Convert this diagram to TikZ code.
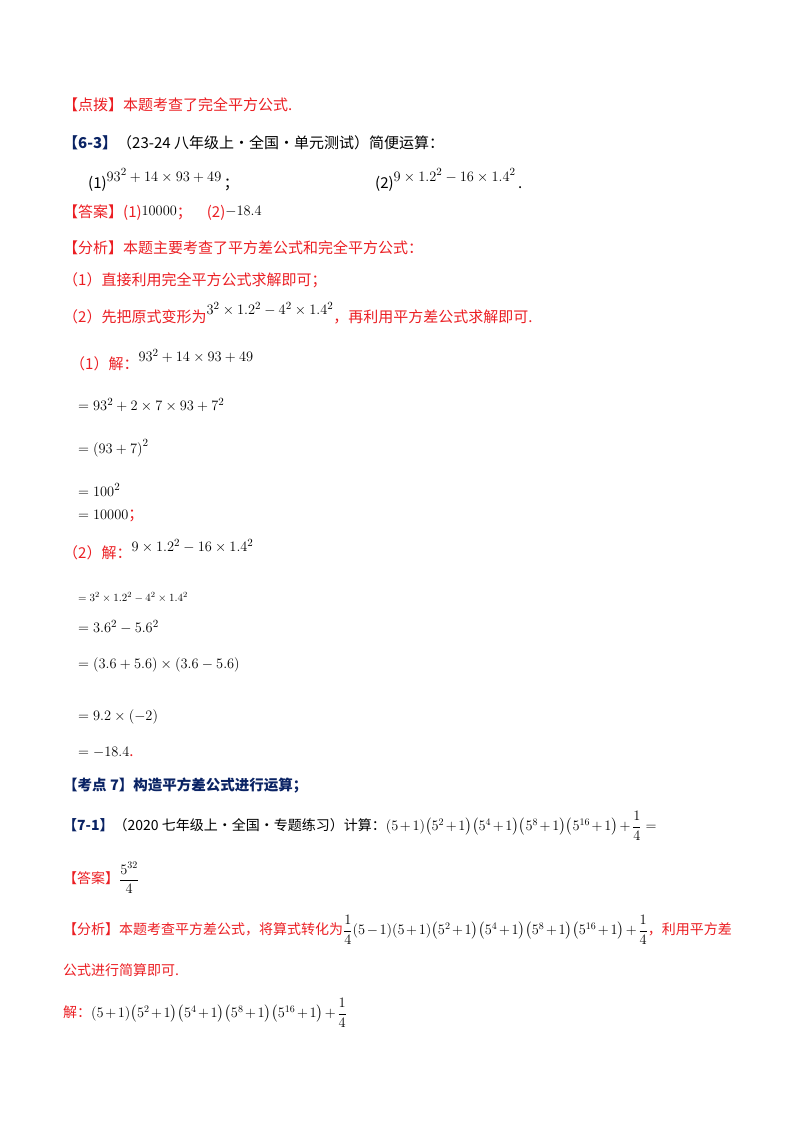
\documentclass[tikz,border=0pt]{standalone}
\usepackage{amsmath}
\usepackage{fontspec}
\setmainfont{Liberation Serif}
\newfontfamily\cjk{Noto Sans CJK SC}
\definecolor{myred}{RGB}{235,30,35}
\definecolor{navy}{RGB}{10,35,100}
\newcommand\tightm{\medmuskip=2mu\relax\thinmuskip=1mu\relax}
\tikzset{ln/.style={anchor=west,inner sep=0pt,font=\cjk\fontsize{15}{17}\selectfont},
 sm/.style={anchor=west,inner sep=0pt,font=\cjk\fontsize{14}{16}\selectfont}}
\begin{document}
\begin{tikzpicture}[x=1pt,y=-1pt]
\useasboundingbox (0,0) rectangle (800,1132);
\node[ln,text=myred] (a1) at (63,105) {【点拨】本题考查了完全平方公式.};
\node[ln] (a2) at (63,143) {\textcolor{navy}{\textbf{【6-3】}}（23-24 八年级上·全国·单元测试）简便运算：};
\node[ln] (a3) at (88,180) {(1)\raisebox{7pt}{$93^2+14\times93+49$}\,；};
\node[ln] (a4) at (375,180) {(2)\raisebox{7pt}{$9\times1.2^2-16\times1.4^2$}\,.};
\node[ln] (a5) at (63,213) {\textcolor{myred}{【答案】(1)}\raisebox{2pt}{$10000$}\textcolor{myred}{；\quad (2)}\raisebox{2pt}{$-18.4$}};
\node[ln,text=myred] (a6) at (63,248) {【分析】本题主要考查了平方差公式和完全平方公式：};
\node[ln,text=myred] (a7) at (63,280) {（1）直接利用完全平方公式求解即可；};
\node[ln,text=myred] (a8) at (63,313) {（2）先把原式变形为\raisebox{8pt}{\textcolor{black}{$3^2\times1.2^2-4^2\times1.4^2$}}，再利用平方差公式求解即可.};
\node[ln] (b1) at (70,360) {\textcolor{myred}{（1）解：}\raisebox{8pt}{$93^2+14\times93+49$}};
\node[ln] (b2) at (78,405) {$=93^2+2\times7\times93+7^2$};
\node[ln] (b3) at (78,448) {$=\left(93+7\right)^2$};
\node[ln] (b4) at (78,490) {$=100^2$};
\node[ln] (b5) at (78,516) {$=10000$\textcolor{myred}{；}};
\node[ln] (b6) at (63,550) {\textcolor{myred}{（2）解：}\raisebox{7pt}{$9\times1.2^2-16\times1.4^2$}};
\node[ln,font=\fontsize{11}{13}\selectfont] (c1) at (78,597) {$=3^2\times1.2^2-4^2\times1.4^2$};
\node[ln] (c2) at (78,627) {$=3.6^2-5.6^2$};
\node[ln] (c3) at (78,665) {$=\left(3.6+5.6\right)\times\left(3.6-5.6\right)$};
\node[ln] (c4) at (78,717) {$=9.2\times\left(-2\right)$};
\node[ln] (c5) at (78,752) {$=-18.4$\textcolor{myred}{.}};
\node[ln,text=navy,font=\cjk\bfseries\fontsize{14.5}{17}\selectfont] (d1) at (63,786) {【考点 7】构造平方差公式进行运算；};
\node[sm] (d2) at (63,826) {\tightm\textcolor{navy}{\textbf{【7-1】}}（2020 七年级上·全国·专题练习）计算：$\left(5+1\right)\!\left(5^2+1\right)\!\left(5^4+1\right)\!\left(5^8+1\right)\!\left(5^{16}+1\right)+\dfrac{1}{4}=$};
\node[sm] (d3) at (63,878) {\textcolor{myred}{【答案】}$\dfrac{5^{32}}{4}$};
\node[sm] (d4) at (63,930) {\tightm\textcolor{myred}{【分析】本题考查平方差公式，将算式转化为}$\dfrac14\!\left(5-1\right)\!\left(5+1\right)\!\left(5^2+1\right)\!\left(5^4+1\right)\!\left(5^8+1\right)\!\left(5^{16}+1\right)+\dfrac14$\textcolor{myred}{，利用平方差}};
\node[sm,text=myred] (d5) at (63,970) {公式进行简算即可.};
\node[sm] (d6) at (63,1013) {\tightm\textcolor{myred}{解：}$\left(5+1\right)\!\left(5^2+1\right)\!\left(5^4+1\right)\!\left(5^8+1\right)\!\left(5^{16}+1\right)+\dfrac{1}{4}$};
\end{tikzpicture}
\end{document}
